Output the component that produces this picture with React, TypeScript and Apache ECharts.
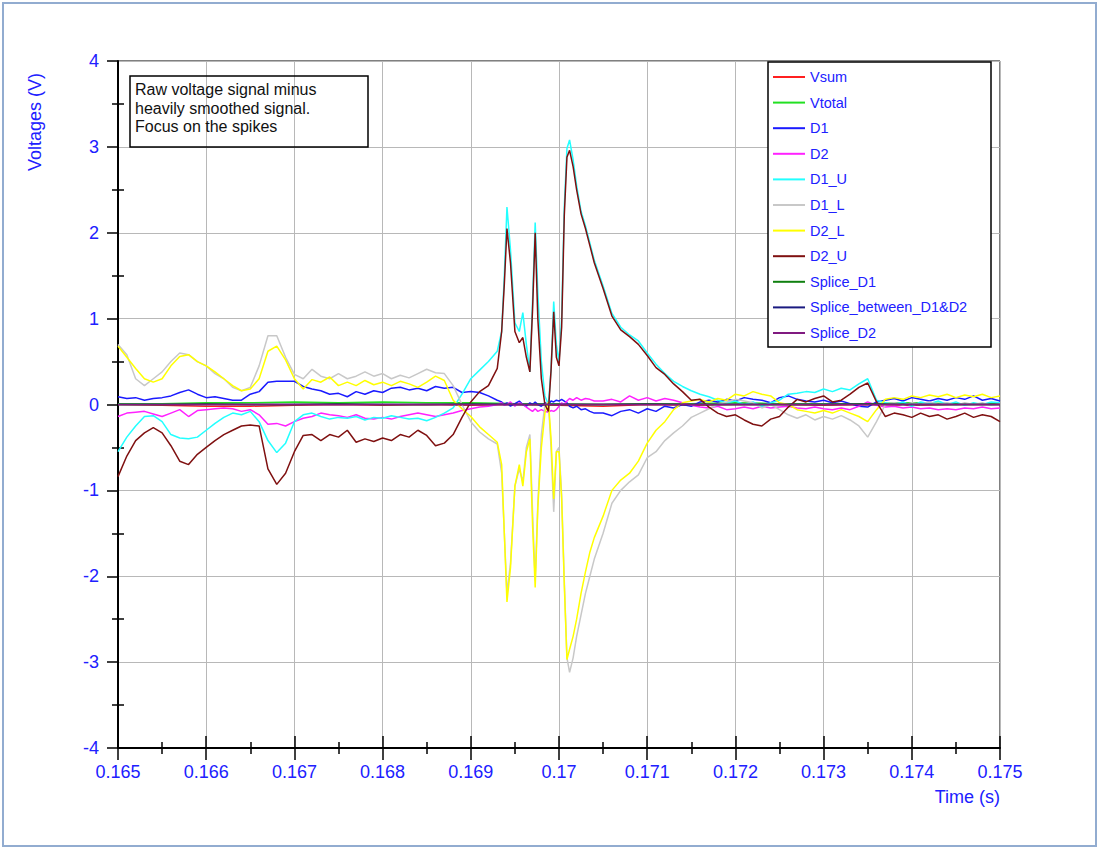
import React, { useEffect, useRef } from "react";
import * as echarts from "echarts";

const times = [
  0.1650, 0.1651, 0.1652, 0.1653, 0.1654, 0.1655, 0.1656, 0.1657, 0.1658, 0.1659,
  0.1660, 0.1661, 0.1662, 0.1663, 0.1664, 0.1665, 0.1666, 0.1667, 0.1668, 0.1669,
  0.1670, 0.1671, 0.1672, 0.1673, 0.1674, 0.1675, 0.1676, 0.1677, 0.1678, 0.1679,
  0.1680, 0.1681, 0.1682, 0.1683, 0.1684, 0.1685, 0.1686, 0.1687, 0.1688, 0.1689,
  0.1690, 0.1691,
  0.16920, 0.16930, 0.16935, 0.16938, 0.16941, 0.16945, 0.16950, 0.16955, 0.16959, 0.16963,
  0.16967, 0.16970, 0.16973, 0.16976, 0.16980, 0.16984, 0.16988, 0.16991, 0.16994, 0.16997,
  0.17000, 0.17003, 0.17006, 0.17009, 0.17012, 0.17016, 0.17020, 0.17025, 0.17030, 0.17035,
  0.17040,
  0.1705, 0.1706, 0.1707, 0.1708, 0.1709, 0.1710, 0.1711, 0.1712, 0.1713, 0.1714,
  0.1715, 0.1716, 0.1717, 0.1718, 0.1719, 0.1720, 0.1721, 0.1722, 0.1723, 0.1724,
  0.1725, 0.1726, 0.1727, 0.1728, 0.1729, 0.1730, 0.1731, 0.1732, 0.1733, 0.1734,
  0.1735, 0.1736, 0.1737, 0.1738, 0.1739, 0.1740, 0.1741, 0.1742, 0.1743, 0.1744,
  0.1745, 0.1746, 0.1747, 0.1748, 0.1749, 0.1750,
];

const d1 = [
  0.09, 0.07, 0.08, 0.05, 0.07, 0.08, 0.1, 0.14, 0.17, 0.12,
  0.08, 0.09, 0.07, 0.05, 0.05, 0.12, 0.15, 0.26, 0.27, 0.27,
  0.27, 0.21, 0.18, 0.16, 0.12, 0.13, 0.09, 0.15, 0.12, 0.16,
  0.14, 0.19, 0.2, 0.17, 0.19, 0.16, 0.21, 0.19, 0.2, 0.14,
  0.15, 0.14,
  0.1, 0.05, 0.03, 0.0, 0.02, -0.02, 0.01, 0.04, 0.0, -0.02,
  0.02, 0.0, 0.03, 0.0, -0.02, 0.02, 0.0, 0.04, 0.03, 0.05,
  0.04, 0.06, 0.04, 0.02, -0.02, -0.04, -0.02, -0.06, -0.05, -0.08,
  -0.1,
  -0.1, -0.13, -0.08, -0.06, -0.1, -0.05, -0.08, -0.02, -0.04, 0.0,
  -0.02, 0.03, 0.05, 0.03, 0.06, 0.04, 0.08, 0.06, 0.05, 0.02,
  0.08, 0.1, 0.06, 0.04, 0.03, 0.05, 0.02, 0.04, 0.01, -0.02,
  -0.03, 0.03, 0.05, 0.07, 0.04, 0.08, 0.06, 0.04, 0.07, 0.05,
  0.08, 0.06, 0.1, 0.05, 0.07, 0.04,
];

const d2 = [
  -0.14, -0.1, -0.09, -0.08, -0.11, -0.14, -0.1, -0.06, -0.14, -0.07,
  -0.06, -0.05, -0.04, -0.05, -0.08, -0.06, -0.12, -0.23, -0.22, -0.25,
  -0.2, -0.16, -0.14, -0.1, -0.12, -0.13, -0.15, -0.12, -0.16, -0.17,
  -0.15, -0.17, -0.14, -0.12, -0.1, -0.12, -0.14, -0.12, -0.1, -0.07,
  -0.05, -0.03,
  -0.02, 0.0, 0.02, -0.01, 0.0, 0.03, -0.02, 0.02, 0.0, -0.03,
  -0.06, -0.08, -0.05, -0.08, -0.06, -0.08, -0.09, -0.07, -0.08, -0.06,
  -0.02, 0.02, 0.0, 0.04, 0.07, 0.05, 0.08, 0.05, 0.07, 0.06,
  0.04,
  0.04, 0.06, 0.03, 0.1, 0.05, 0.08, 0.04, 0.07, 0.05, 0.02,
  -0.01, -0.03, -0.04, -0.02, -0.06, -0.05, -0.03, -0.05, -0.02, -0.04,
  -0.03, -0.02, -0.04, -0.05, -0.03, -0.05, -0.06, -0.04, -0.06, -0.02,
  0.03, -0.01, -0.03, -0.02, -0.04, -0.03, -0.05, -0.04, -0.06, -0.05,
  -0.06, -0.04, -0.05, -0.03, -0.05, -0.04,
];

const d1U = [
  -0.55, -0.38, -0.25, -0.14, -0.13, -0.2, -0.35, -0.39, -0.4, -0.38,
  -0.3, -0.22, -0.15, -0.1, -0.12, -0.08, -0.2, -0.42, -0.56, -0.45,
  -0.2, -0.12, -0.1, -0.14, -0.17, -0.15, -0.16, -0.14, -0.18, -0.15,
  -0.16, -0.13, -0.15, -0.17, -0.16, -0.19, -0.15, -0.1, -0.04, 0.12,
  0.3, 0.4,
  0.5, 0.62, 0.85, 1.5, 2.3, 1.8, 0.95, 0.85, 1.07, 0.7,
  0.38, 1.2, 2.12, 1.3, 0.5, 0.1, 0.0, 0.4, 1.2, 0.7,
  0.5, 1.0, 2.3, 2.98, 3.08, 2.85, 2.55, 2.25, 2.08, 1.88,
  1.68,
  1.38, 1.06, 0.9, 0.81, 0.74, 0.6, 0.47, 0.36, 0.27, 0.21,
  0.16, 0.12, 0.09, 0.05, 0.02, 0.04, 0.0, 0.03, -0.02, 0.02,
  0.05, 0.12, 0.13, 0.15, 0.14, 0.18, 0.15, 0.19, 0.17, 0.24,
  0.3, 0.05, 0.02, 0.0, 0.03, -0.02, 0.03, 0.01, 0.04, 0.0,
  0.03, -0.01, 0.02, 0.0, 0.03, 0.02,
];

const d1L = [
  0.7, 0.58, 0.3, 0.22, 0.3, 0.38, 0.5, 0.6, 0.58, 0.5,
  0.45, 0.36, 0.3, 0.2, 0.16, 0.2, 0.45, 0.8, 0.8, 0.55,
  0.35, 0.3, 0.41, 0.33, 0.3, 0.36, 0.3, 0.33, 0.38, 0.33,
  0.36, 0.3, 0.34, 0.31, 0.36, 0.41, 0.37, 0.36, 0.22, 0.0,
  -0.2, -0.32,
  -0.4, -0.46, -0.8, -1.5, -2.2, -1.85, -0.95, -0.75, -0.9, -0.5,
  -0.35, -1.25, -2.05, -1.15, -0.35, 0.0, 0.02, -0.5, -1.25, -0.55,
  -0.5, -1.05, -2.05, -2.95, -3.12, -2.95, -2.7, -2.45, -2.2, -2.0,
  -1.8,
  -1.5, -1.15, -1.0, -0.9, -0.82, -0.62, -0.55, -0.42, -0.33, -0.25,
  -0.15, -0.1, -0.05, 0.0, 0.03, 0.06, 0.04, 0.02, -0.04, 0.0,
  -0.06, -0.12, -0.16, -0.12, -0.18, -0.14, -0.17, -0.13, -0.18, -0.25,
  -0.38, -0.2, 0.0, 0.02, -0.01, 0.02, 0.0, 0.03, 0.0, 0.02,
  -0.01, 0.02, 0.0, 0.02, -0.01, 0.01,
];

const d2L = [
  0.68, 0.55, 0.42, 0.3, 0.26, 0.3, 0.45, 0.56, 0.58, 0.5,
  0.45, 0.38, 0.3, 0.22, 0.16, 0.18, 0.3, 0.62, 0.68, 0.52,
  0.3, 0.18, 0.29, 0.26, 0.32, 0.22, 0.26, 0.22, 0.28, 0.23,
  0.26, 0.22, 0.27, 0.24, 0.2, 0.26, 0.33, 0.28, 0.05, -0.05,
  -0.14, -0.26,
  -0.35, -0.44, -0.7, -1.5, -2.3, -1.9, -0.95, -0.7, -0.95, -0.55,
  -0.4, -1.4, -2.13, -1.2, -0.5, -0.1, 0.03, -0.4, -1.1, -0.55,
  -0.55, -1.1, -2.1, -2.97, -2.85, -2.7, -2.5, -2.2, -1.95, -1.72,
  -1.55,
  -1.3, -1.0, -0.88, -0.8, -0.66, -0.45, -0.3, -0.2, -0.06, 0.02,
  0.04, 0.06, 0.03, 0.07, 0.05, 0.12, 0.1, 0.15, 0.12, 0.1,
  0.02, 0.0, -0.06, -0.08, -0.1, -0.07, -0.1, -0.06, -0.1, -0.14,
  -0.2, -0.06, 0.06, 0.08, 0.06, 0.1, 0.08, 0.11, 0.09, 0.12,
  0.08, 0.11, 0.09, 0.12, 0.08, 0.1,
];

const d2U = [
  -0.84, -0.6, -0.42, -0.33, -0.27, -0.33, -0.48, -0.66, -0.7, -0.58,
  -0.5, -0.42, -0.35, -0.3, -0.25, -0.24, -0.25, -0.75, -0.93, -0.8,
  -0.55, -0.36, -0.35, -0.42, -0.35, -0.38, -0.3, -0.44, -0.4, -0.43,
  -0.39, -0.42, -0.35, -0.38, -0.3, -0.36, -0.48, -0.45, -0.35, -0.15,
  0.03, 0.15,
  0.22, 0.42, 0.85, 1.4, 2.05, 1.65, 0.85, 0.72, 0.78, 0.55,
  0.38, 1.1, 2.0, 1.0, 0.3, 0.0, -0.08, 0.4, 1.08, 0.55,
  0.45, 0.9, 2.2, 2.88, 2.96, 2.77, 2.5, 2.22, 2.05, 1.85,
  1.65,
  1.35, 1.03, 0.87, 0.79, 0.7, 0.57, 0.43, 0.35, 0.24, 0.15,
  0.05, 0.06, -0.03, -0.1, -0.14, -0.12, -0.18, -0.23, -0.25, -0.17,
  -0.14, -0.03, 0.06, 0.03, 0.07, 0.1, 0.03, 0.05, 0.12, 0.2,
  0.25, 0.03, -0.14, -0.1, -0.12, -0.15, -0.1, -0.14, -0.12, -0.17,
  -0.14, -0.1, -0.15, -0.12, -0.14, -0.2,
];

const coarseTimes = [
  0.165, 0.1655, 0.166, 0.1665, 0.167, 0.1675, 0.168, 0.1685, 0.169, 0.1695,
  0.17, 0.1705, 0.171, 0.1715, 0.172, 0.1725, 0.173, 0.1735, 0.174, 0.1745, 0.175,
];
const vsum = [0, -0.01, -0.02, -0.02, -0.01, 0, -0.01, 0, -0.01, 0, -0.01, -0.02, 0, -0.01, 0, 0, -0.01, 0, -0.01, 0, 0];
const vtotal = [0.01, 0.01, 0.02, 0.02, 0.03, 0.02, 0.03, 0.02, 0.02, 0.01, 0.01, 0, 0.01, 0.01, 0.02, 0.01, 0.01, 0.01, 0.02, 0.01, 0.01];
const spliceD1 = [0, 0, 0.01, 0, 0, 0.01, 0, 0, 0.01, 0, 0, 0, 0.01, 0, 0, 0, 0, 0.01, 0, 0, 0];
const spliceBetween = [0, 0, 0, 0, 0, 0, 0, 0, 0, 0, 0, 0, 0, 0, 0, 0, 0, 0, 0, 0, 0];
const spliceD2 = [0, 0, 0, 0, 0, 0, 0, 0, 0, 0, 0, 0, 0, 0, 0, 0, 0, 0, 0, 0, 0];

const seriesNames = ["Vsum", "Vtotal", "D1", "D2", "D1_U", "D1_L", "D2_L", "D2_U", "Splice_D1", "Splice_between_D1&D2", "Splice_D2"];
const seriesColors = ["#ff2020", "#22e022", "#1a1aff", "#ff22ff", "#22ffff", "#c8c8c8", "#ffff00", "#7f1010", "#108010", "#1a1a80", "#801a80"];
const yTicks = [-4, -3, -2, -1, 0, 1, 2, 3, 4];

const FONT = "'Liberation Sans', Arial, sans-serif";
const BLUE = "#2020ff";

export default function App() {
  const ref = useRef<HTMLDivElement>(null);
  useEffect(() => {
    const chart = echarts.init(ref.current!, undefined, { renderer: "svg" });
    const pair = (xs: number[], ys: number[]) => xs.map((x, i) => [x, ys[i]]);
    const sets: [number[], number[]][] = [
      [coarseTimes, vsum],
      [coarseTimes, vtotal],
      [times, d1],
      [times, d2],
      [times, d1U],
      [times, d1L],
      [times, d2L],
      [times, d2U],
      [coarseTimes, spliceD1],
      [coarseTimes, spliceBetween],
      [coarseTimes, spliceD2],
    ];
    const series = sets.map(([xs, ys], i) => ({
      name: seriesNames[i],
      type: "line",
      xAxisIndex: 0,
      yAxisIndex: 0,
      showSymbol: false,
      symbol: "none",
      color: seriesColors[i],
      lineStyle: { color: seriesColors[i], width: 1.5 },
      data: pair(xs, ys),
      z: 2,
    }));
    const xFmt = (v: number) => parseFloat(v.toFixed(4)).toString();
    chart.setOption({
      animation: false,
      backgroundColor: "#ffffff",
      grid: { left: 118, top: 61, right: 99, bottom: 101, show: true, borderColor: "#000", borderWidth: 1, backgroundColor: "transparent" },
      xAxis: [
        {
          type: "value", min: 0.165, max: 0.175, interval: 0.001, position: "bottom",
          axisLine: { show: true, onZero: false, lineStyle: { color: "#000", width: 2 } },
          axisTick: { show: true, length: 12, lineStyle: { color: "#000", width: 1.5 } },
          minorTick: { show: true, splitNumber: 2, length: 6, lineStyle: { color: "#000", width: 1.5 } },
          splitLine: { show: true, lineStyle: { color: "#b8b8b8", width: 1 } },
          axisLabel: { color: BLUE, fontSize: 18, fontFamily: FONT, margin: 15, formatter: xFmt },
        },
        {
          type: "value", min: 0.165, max: 0.175, interval: 0.001, position: "bottom",
          axisLine: { show: false, onZero: false },
          axisTick: { show: true, inside: true, length: 12, lineStyle: { color: "#000", width: 1.5 } },
          minorTick: { show: true, splitNumber: 2, length: 6, lineStyle: { color: "#000", width: 1.5 } },
          splitLine: { show: false },
          axisLabel: { show: false },
        },
      ],
      yAxis: [
        {
          type: "value", min: yTicks[0], max: yTicks[yTicks.length - 1], interval: 1, position: "left",
          axisLine: { show: true, onZero: false, lineStyle: { color: "#000", width: 2 } },
          axisTick: { show: true, length: 11, lineStyle: { color: "#000", width: 1.5 } },
          minorTick: { show: true, splitNumber: 2, length: 6, lineStyle: { color: "#000", width: 1.5 } },
          splitLine: { show: true, lineStyle: { color: "#b8b8b8", width: 1 } },
          axisLabel: { color: BLUE, fontSize: 18, fontFamily: FONT, margin: 19 },
        },
        {
          type: "value", min: yTicks[0], max: yTicks[yTicks.length - 1], interval: 1, position: "left",
          axisLine: { show: false, onZero: false },
          axisTick: { show: false, inside: true, length: 0 },
          minorTick: { show: true, splitNumber: 2, length: 6, lineStyle: { color: "#000", width: 1.5 } },
          splitLine: { show: false },
          axisLabel: { show: false },
        },
      ],
      legend: {
        orient: "vertical", left: 773, top: 69, padding: 0, itemGap: 9.6,
        itemWidth: 32, itemHeight: 2, icon: "rect", selectedMode: false,
        textStyle: { color: BLUE, fontSize: 14.5, fontFamily: FONT, lineHeight: 16 },
        data: seriesNames, z: 6,
      },
      graphic: [
        { type: "rect", z: 1, silent: true, shape: { x: 3, y: 3, width: 1093, height: 843 }, style: { fill: "none", stroke: "#92acd0", lineWidth: 2 } },
        { type: "rect", z: 5, silent: true, shape: { x: 768, y: 62, width: 223, height: 285 }, style: { fill: "#ffffff", stroke: "#000", lineWidth: 1.5 } },
        { type: "rect", z: 5, silent: true, shape: { x: 130, y: 76, width: 238, height: 71 }, style: { fill: "none", stroke: "#000", lineWidth: 1.5 } },
        {
          type: "text", z: 5, silent: true, x: 135, y: 80,
          style: { text: "Raw voltage signal minus\nheavily smoothed signal.\nFocus on the spikes", font: `16px ${FONT}`, lineHeight: 18.7, fill: "#111" },
        },
        {
          type: "text", z: 5, silent: true, x: 35, y: 122, rotation: Math.PI / 2,
          style: { text: "Voltages (V)", font: `18px ${FONT}`, fill: BLUE, align: "center", verticalAlign: "middle" },
        },
        {
          type: "text", z: 5, silent: true, x: 1000, y: 797,
          style: { text: "Time (s)", font: `18px ${FONT}`, fill: BLUE, align: "right", verticalAlign: "middle" },
        },
      ],
      series,
    });
    return () => chart.dispose();
  }, []);
  return <div ref={ref} style={{ position: "fixed", left: 0, top: 0, width: 1099, height: 849, background: "#fff" }} />;
}
